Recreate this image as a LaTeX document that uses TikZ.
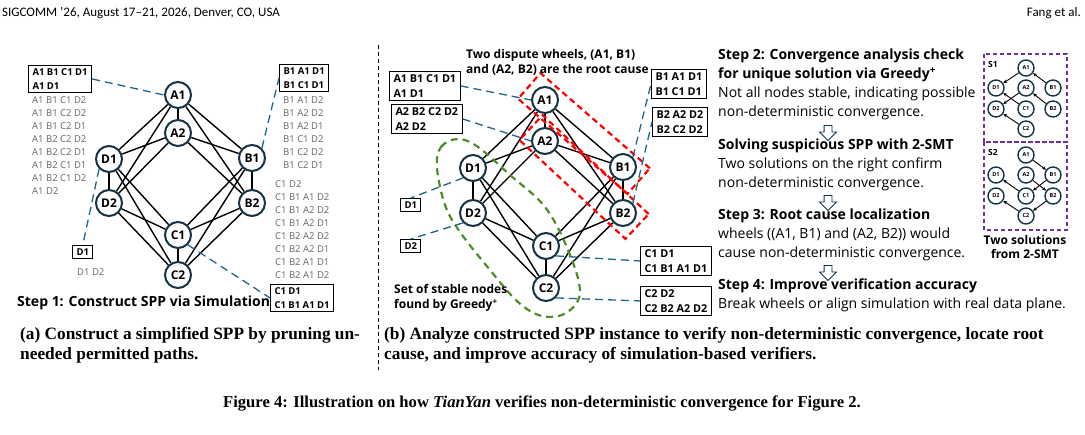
\documentclass[tikz,border=0pt]{standalone}
\usepackage{fontspec}
\setmainfont{Open Sans}
\newfontfamily\headfont[Ligatures=TeX]{Carlito}
\newfontfamily\capfont[Ligatures=TeX]{Liberation Serif}
\usepackage{xcolor}
\usepackage{tikz}
\usetikzlibrary{shapes,arrows.meta,positioning}

\definecolor{nodeblue}{RGB}{20,52,70}
\definecolor{linkblue}{RGB}{30,100,140}
\definecolor{greedygreen}{RGB}{78,140,40}
\definecolor{smtpurple}{RGB}{112,48,160}
\definecolor{pathgray}{RGB}{100,100,100}

\begin{document}
\begin{tikzpicture}
  [
    x=1pt, y=-1pt,
    Router/.style={circle, draw=nodeblue, fill=white, line width=2pt, minimum size=26pt, inner sep=0pt, font=\fontsize{12}{12}\selectfont\bfseries},
    Tiny/.style={circle, draw=nodeblue, fill=white, line width=1.4pt, minimum size=16pt, inner sep=0pt, font=\fontsize{5.5}{5.5}\selectfont\bfseries},
    Link/.style={black, line width=1.4pt},
    Pick/.style={-{Stealth[length=4pt,width=3.5pt]}, black, line width=0.9pt},
    Tether/.style={linkblue, line width=1.3pt, dash pattern=on 8pt off 5pt},
    PathBox/.style={draw=black, line width=1pt, align=left, inner xsep=4pt, inner ysep=3pt, font=\fontsize{9.5}{14}\selectfont\bfseries},
    PathList/.style={align=left, inner sep=0pt, text=pathgray, font=\fontsize{9.5}{13}\selectfont},
    BigBox/.style={draw=black, line width=1pt, align=left, inner xsep=4pt, inner ysep=3pt, font=\fontsize{10.8}{15}\selectfont\bfseries},
    Wheel/.style={draw=red, line width=2.2pt, dash pattern=on 6pt off 4pt, minimum width=145pt, minimum height=34pt},
    Note/.style={align=left, inner sep=0pt, font=\fontsize{12}{15}\selectfont\bfseries},
    StepText/.style={align=left, inner sep=0pt, font=\fontsize{14}{19}\selectfont},
    Hollow/.style={single arrow, draw=nodeblue, line width=0.8pt, fill=white, rotate=-90, minimum height=15pt, minimum width=16pt, inner sep=3.5pt, single arrow head extend=4.5pt},
    Caption/.style={align=left, inner sep=0pt, font=\capfont\fontsize{17.3}{20}\selectfont\bfseries}
  ]
  \useasboundingbox (0,0) rectangle (1085,435);

  % Running head
  \node[anchor=west, inner sep=0pt, font=\headfont\fontsize{13}{13}\selectfont] (head) at (2,13) {SIGCOMM ’26, August 17–21, 2026, Denver, CO, USA};
  \node[anchor=east, inner sep=0pt, font=\headfont\fontsize{13}{13}\selectfont] (authors) at (1081,13) {Fang et al.};

  % Nodes (a)
  \node[Router] (la1) at (178,95) {A1};
  \node[Router] (la2) at (178,133) {A2};
  \node[Router] (ld1) at (109,159) {D1};
  \node[Router] (ld2) at (109,203) {D2};
  \node[Router] (lb1) at (252,158) {B1};
  \node[Router] (lb2) at (252,203) {B2};
  \node[Router] (lc1) at (178,235) {C1};
  \node[Router] (lc2) at (178,275) {C2};

  % Lines (a)
  \foreach \s in {a1,a2,c1,c2}
    \foreach \t in {d1,d2,b1,b2}
      \draw[Link] (l\s) -- (l\t);
  \draw[Link] (la1) -- (la2);
  \draw[Link] (ld1) -- (ld2);
  \draw[Link] (lb1) -- (lb2);
  \draw[Link] (lc1) -- (lc2);

  % Permitted paths (a)
  \node[PathBox, anchor=north west] (lpa) at (28,65) {A1 B1 C1 D1\\A1 D1};
  \node[PathList, anchor=north west] (lista) at (32,96.5) {A1 B1 C1 D2\\A1 B1 C2 D2\\A1 B1 C2 D1\\A1 B2 C2 D2\\A1 B2 C2 D1\\A1 B2 C1 D1\\A1 B2 C1 D2\\A1 D2};
  \node[PathBox, anchor=north west] (lpb) at (279,64) {B1 A1 D1\\B1 C1 D1};
  \node[PathList, anchor=north west] (listb) at (283,96.5) {B1 A1 D2\\B1 A2 D2\\B1 A2 D1\\B1 C1 D2\\B1 C2 D2\\B1 C2 D1};
  \node[PathList, anchor=north west] (listc) at (275,180.5) {C1 D2\\C1 B1 A1 D2\\C1 B1 A2 D2\\C1 B1 A2 D1\\C1 B2 A2 D2\\C1 B2 A2 D1\\C1 B2 A1 D1\\C1 B2 A1 D2};
  \node[PathBox, anchor=north west] (lpc) at (270,284) {C1 D1\\C1 B1 A1 D1};
  \node[PathBox, anchor=north west] (lpd) at (72,245) {D1};
  \node[PathList, anchor=north west] (listd) at (77,268.5) {D1 D2};

  \draw[Tether] (lpa.east) -- (la1.west);
  \draw[Tether] (lb1.north east) -- (lpb.west);
  \draw[Tether] (ld1.south west) -- (lpd.north);
  \draw[Tether] (lc1.south east) -- (lpc.west);

  \node[anchor=west, inner sep=0pt, font=\fontsize{14}{14}\selectfont\bfseries] (step1) at (17,303) {Step 1: Construct SPP via Simulation};

  % Separator
  \draw[black, line width=0.6pt, dash pattern=on 4pt off 3pt] (378,45) -- (378,370);

  % Nodes (b)
  \node[Router] (ma1) at (545,100) {A1};
  \node[Router] (ma2) at (545,141) {A2};
  \node[Router] (md1) at (473,168) {D1};
  \node[Router] (md2) at (473,213) {D2};
  \node[Router] (mb1) at (623,167) {B1};
  \node[Router] (mb2) at (623,213) {B2};
  \node[Router] (mc1) at (546,246) {C1};
  \node[Router] (mc2) at (546,288) {C2};

  % Lines (b)
  \foreach \s in {a1,a2,c1,c2}
    \foreach \t in {d1,d2,b1,b2}
      \draw[Link] (m\s) -- (m\t);
  \draw[Link] (ma1) -- (ma2);
  \draw[Link] (md1) -- (md2);
  \draw[Link] (mb1) -- (mb2);
  \draw[Link] (mc1) -- (mc2);

  % Dispute wheels and stable set
  \node[Wheel, rotate=-41] (wheel1) at (584,133.5) {};
  \node[Wheel, rotate=-43] (wheel2) at (584,177) {};
  \draw[greedygreen, line width=2.2pt, dash pattern=on 7pt off 5pt]
    plot[smooth cycle, tension=0.6] coordinates {(437,168) (441,147) (458,139) (478,147) (510,175) (545,207) (568,250) (580,292) (566,313) (542,316) (518,302) (490,270) (460,232) (445,205)};

  % Permitted paths (b)
  \node[BigBox, anchor=north west] (mpa) at (389,71) {A1 B1 C1 D1\\A1 D1};
  \node[BigBox, anchor=north west] (mpb) at (391,104) {A2 B2 C2 D2\\A2 D2};
  \node[PathBox, anchor=north west] (mpd1) at (400,198) {D1};
  \node[PathBox, anchor=north west] (mpd2) at (400,239) {D2};
  \node[BigBox, anchor=north west] (mpe) at (651,69) {B1 A1 D1\\B1 C1 D1};
  \node[BigBox, anchor=north west] (mpf) at (652,107) {B2 A2 D2\\B2 C2 D2};
  \node[BigBox, anchor=north west] (mpg) at (640,246) {C1 D1\\C1 B1 A1 D1};
  \node[BigBox, anchor=north west] (mph) at (640,286) {C2 D2\\C2 B2 A2 D2};

  \draw[Tether] (mpa.east) -- (ma1.west);
  \draw[Tether] (mpb.east) -- (ma2.west);
  \draw[Tether] (md1.south west) -- (mpd1.north);
  \draw[Tether] (md2.south west) -- (mpd2.north);
  \draw[Tether] (mb1.north east) -- (mpe.west);
  \draw[Tether] (mb2.north east) -- (mpf.west);
  \draw[Tether] (mc1.south east) -- (mpg.west);
  \draw[Tether] (mc2.south east) -- (mph.west);

  \node[Note, anchor=north west] (wheelnote) at (466,49) {Two dispute wheels, (A1, B1)\\and (A2, B2) are the root cause};
  \node[Note, anchor=north west] (greedynote) at (394,284) {Set of stable nodes\\found by Greedy\textsuperscript{+}};

  % Steps
  \node[StepText, anchor=north west] (step2) at (718,49) {\textbf{Step 2: Convergence analysis check}\\\textbf{for unique solution via Greedy\textsuperscript{+}}\\Not all nodes stable, indicating possible\\non-deterministic convergence.};
  \node[Hollow] (go1) at (828,131) {};
  \node[StepText, anchor=north west] (smt) at (718,139) {\textbf{Solving suspicious SPP with 2-SMT}\\Two solutions on the right confirm\\non-deterministic convergence.};
  \node[Hollow] (go2) at (828,201) {};
  \node[StepText, anchor=north west] (step3) at (718,209) {\textbf{Step 3: Root cause localization}\\wheels ((A1, B1) and (A2, B2)) would\\cause non-deterministic convergence.};
  \node[Hollow] (go3) at (828,271) {};
  \node[StepText, anchor=north west] (step4) at (718,279) {\textbf{Step 4: Improve verification accuracy}\\Break wheels or align simulation with real data plane.};

  % Solutions from 2-SMT
  \draw[smtpurple, line width=1.1pt, dash pattern=on 4pt off 3pt] (984,54) rectangle (1067,142);
  \draw[smtpurple, line width=1.1pt, dash pattern=on 4pt off 3pt] (984,142) rectangle (1067,230);
  \node[inner sep=0pt, font=\fontsize{8.5}{8.5}\selectfont\bfseries] (s1) at (993,64) {S1};
  \node[inner sep=0pt, font=\fontsize{8.5}{8.5}\selectfont\bfseries] (s2) at (993,152) {S2};

  \node[Tiny] (sa1) at (1026,68) {A1};
  \node[Tiny] (sd1) at (996,88) {D1};
  \node[Tiny] (sa2) at (1026,88) {A2};
  \node[Tiny] (sb1) at (1053,88) {B1};
  \node[Tiny] (sd2) at (996,109) {D2};
  \node[Tiny] (sc1) at (1026,109) {C1};
  \node[Tiny] (sb2) at (1053,109) {B2};
  \node[Tiny] (sc2) at (1026,129) {C2};
  \draw[Pick] (sa1) -- (sd1);
  \draw[Pick] (sb1) -- (sa1);
  \draw[Pick] (sc1) -- (sd1);
  \draw[Pick] (sa2) -- (sd2);
  \draw[Pick] (sb2) -- (sa2);
  \draw[Pick] (sc2) -- (sd2);

  \node[Tiny] (ta1) at (1026,155) {A1};
  \node[Tiny] (td1) at (996,175) {D1};
  \node[Tiny] (ta2) at (1026,175) {A2};
  \node[Tiny] (tb1) at (1053,175) {B1};
  \node[Tiny] (td2) at (996,196) {D2};
  \node[Tiny] (tc1) at (1026,196) {C1};
  \node[Tiny] (tb2) at (1053,196) {B2};
  \node[Tiny] (tc2) at (1026,216) {C2};
  \draw[Pick] (ta1) -- (tb1);
  \draw[Pick] (tb1) -- (tc1);
  \draw[Pick] (tc1) -- (td1);
  \draw[Pick] (ta2) -- (tb2);
  \draw[Pick] (tb2) -- (tc2);
  \draw[Pick] (tc2) -- (td2);

  \node[align=center, inner sep=0pt, font=\fontsize{12}{13.5}\selectfont\bfseries] (twosol) at (1025,247) {Two solutions\\from 2-SMT};

  % Captions
  \node[Caption, anchor=north west] (capa) at (20,327) {(a) Construct a simplified SPP by pruning un-\\needed permitted paths.};
  \node[Caption, anchor=north west] (capb) at (384,327) {(b) Analyze constructed SPP instance to verify non-deterministic convergence, locate root\\cause, and improve accuracy of simulation-based verifiers.};
  \node[inner sep=0pt, font=\capfont\fontsize{16.6}{16.6}\selectfont\bfseries] (figcap) at (542,403) {Figure 4: Illustration on how \textit{TianYan} verifies non-deterministic convergence for Figure 2.};

\end{tikzpicture}
\end{document}
